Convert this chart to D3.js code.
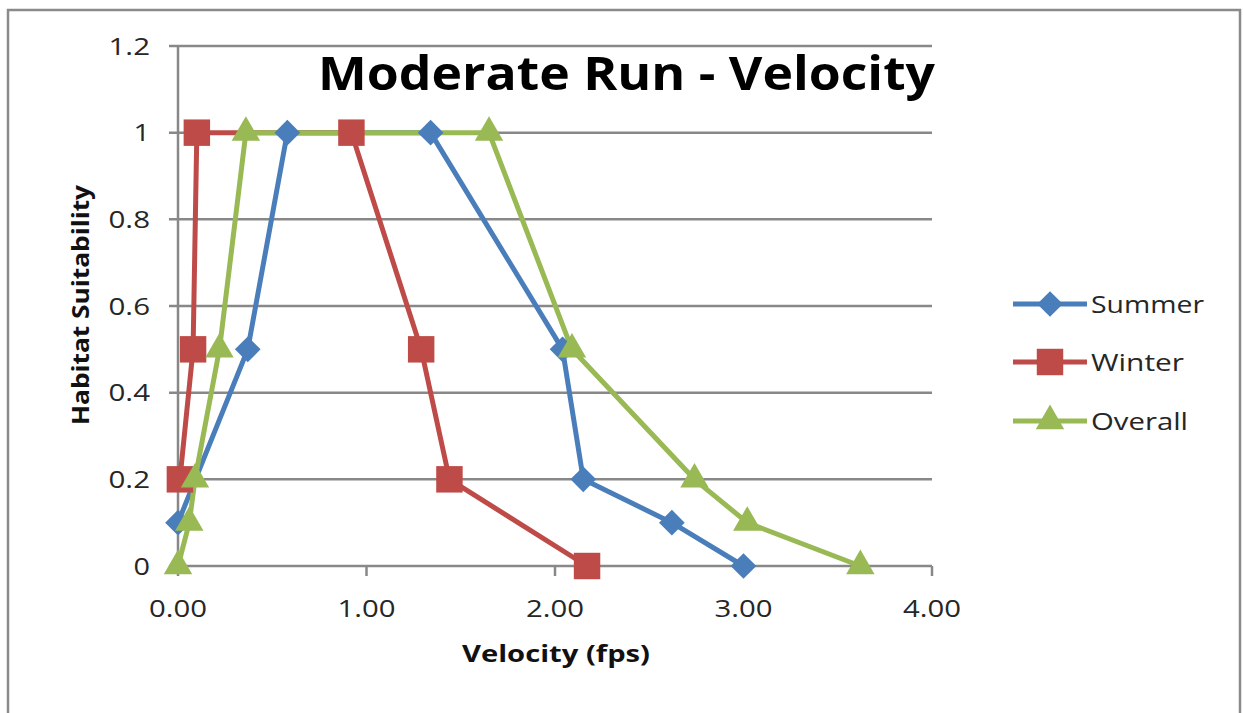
<!DOCTYPE html>
<html><head><meta charset="utf-8">
<script src="https://cdn.jsdelivr.net/npm/d3@7"></script>
<style>body{margin:0;background:#fff}svg{display:block}</style>
</head><body>
<script>
const seriesNames = ["Summer", "Winter", "Overall"];
const summerX = [0.00, 0.37, 0.58, 1.34, 2.04, 2.15, 2.62, 3.00];
const summerY = [0.1, 0.5, 1, 1, 0.5, 0.2, 0.1, 0];
const winterX = [0.01, 0.08, 0.10, 0.92, 1.29, 1.44, 2.17];
const winterY = [0.2, 0.5, 1, 1, 0.5, 0.2, 0];
const overallX = [0.00, 0.06, 0.09, 0.22, 0.36, 1.65, 2.09, 2.74, 3.02, 3.62];
const overallY = [0, 0.1, 0.2, 0.5, 1, 1, 0.5, 0.2, 0.1, 0];
const xTicks = [0, 1, 2, 3, 4];
const yTicks = [0, 0.2, 0.4, 0.6, 0.8, 1, 1.2];
const colors = ["#4a7ebb", "#be4b48", "#98b954"];

const W = 1243, H = 713;
const svg = d3.select("body").append("svg").attr("width", W).attr("height", H);
svg.append("rect").attr("x", 8).attr("y", 10).attr("width", 1232).attr("height", 720)
  .attr("fill", "#fff").attr("stroke", "#8a8a8a").attr("stroke-width", 2.5);

const x = d3.scaleLinear().domain([0, 4]).range([178, 932]);
const y = d3.scaleLinear().domain([0, 1.2]).range([566, 46]);
const font = "'Open Sans', sans-serif";
// approximate label width (image is horizontally stretched)
const tw = s => s.split("").reduce((a, c) => a + (c === "." ? 8.5 : 16.5), 0);

svg.append("g").selectAll("line").data(yTicks).join("line")
  .attr("x1", 169).attr("x2", 932).attr("y1", d => y(d)).attr("y2", d => y(d))
  .attr("stroke", "#888").attr("stroke-width", 2.5);
svg.append("line").attr("x1", 178).attr("x2", 178).attr("y1", 46).attr("y2", 566)
  .attr("stroke", "#888").attr("stroke-width", 2.5);
svg.append("g").selectAll("line").data(xTicks).join("line")
  .attr("x1", d => x(d)).attr("x2", d => x(d)).attr("y1", 566).attr("y2", 576)
  .attr("stroke", "#888").attr("stroke-width", 2.5);

const yFmt = d => String(+d.toFixed(1));
svg.append("g").selectAll("text").data(yTicks).join("text")
  .attr("x", 150).attr("y", d => y(d) + 8.5).attr("text-anchor", "end")
  .attr("font-family", font).attr("font-size", 24).attr("fill", "#262626")
  .attr("textLength", d => tw(yFmt(d))).attr("lengthAdjust", "spacingAndGlyphs")
  .text(yFmt);
svg.append("g").selectAll("text").data(xTicks).join("text")
  .attr("x", d => x(d)).attr("y", 617).attr("text-anchor", "middle")
  .attr("font-family", font).attr("font-size", 24).attr("fill", "#262626")
  .attr("textLength", d => tw(d3.format(".2f")(d))).attr("lengthAdjust", "spacingAndGlyphs")
  .text(d => d3.format(".2f")(d));

svg.append("text").attr("x", 556).attr("y", 662).attr("text-anchor", "middle")
  .attr("font-family", font).attr("font-weight", "bold").attr("font-size", 23).attr("fill", "#111")
  .attr("textLength", 188).attr("lengthAdjust", "spacingAndGlyphs")
  .text("Velocity (fps)");
svg.append("text").attr("transform", "translate(89,305) rotate(-90)")
  .attr("text-anchor", "middle").attr("font-family", font).attr("font-weight", "bold")
  .attr("font-size", 23).attr("fill", "#111")
  .attr("textLength", 240).attr("lengthAdjust", "spacingAndGlyphs")
  .text("Habitat Suitability");
svg.append("text").attr("x", 626.5).attr("y", 90).attr("text-anchor", "middle")
  .attr("font-family", font).attr("font-weight", "bold").attr("font-size", 47).attr("fill", "#000")
  .attr("textLength", 617).attr("lengthAdjust", "spacingAndGlyphs")
  .text("Moderate Run - Velocity");

const data = [
  summerX.map((v, i) => [v, summerY[i]]),
  winterX.map((v, i) => [v, winterY[i]]),
  overallX.map((v, i) => [v, overallY[i]])
];
const markers = [
  d3.symbol().type(d3.symbolSquare).size(330)(),
  d3.symbol().type(d3.symbolSquare).size(700)(),
  d3.symbol().type(d3.symbolTriangle).size(350)()
];
const rot = [45, 0, 0];
const line = d3.line().x(d => x(d[0])).y(d => y(d[1]));
data.forEach((pts, i) => {
  svg.append("path").attr("d", line(pts)).attr("fill", "none")
    .attr("stroke", colors[i]).attr("stroke-width", 5).attr("stroke-linejoin", "round");
});
data.forEach((pts, i) => {
  svg.append("g").selectAll("path").data(pts).join("path")
    .attr("transform", d => `translate(${x(d[0])},${y(d[1])}) rotate(${rot[i]})`)
    .attr("d", markers[i]).attr("fill", colors[i]);
});

const legY = [304, 362, 421];
const legW = [113, 93, 97];
seriesNames.forEach((n, i) => {
  const g = svg.append("g");
  g.append("line").attr("x1", 1013).attr("x2", 1087).attr("y1", legY[i]).attr("y2", legY[i])
    .attr("stroke", colors[i]).attr("stroke-width", 5);
  g.append("path").attr("transform", `translate(1050,${legY[i]}) rotate(${rot[i]})`)
    .attr("d", markers[i]).attr("fill", colors[i]);
  g.append("text").attr("x", 1091).attr("y", legY[i] + 8.5)
    .attr("font-family", font).attr("font-size", 24).attr("fill", "#262626")
    .attr("textLength", legW[i]).attr("lengthAdjust", "spacingAndGlyphs").text(n);
});
</script>
</body></html>
